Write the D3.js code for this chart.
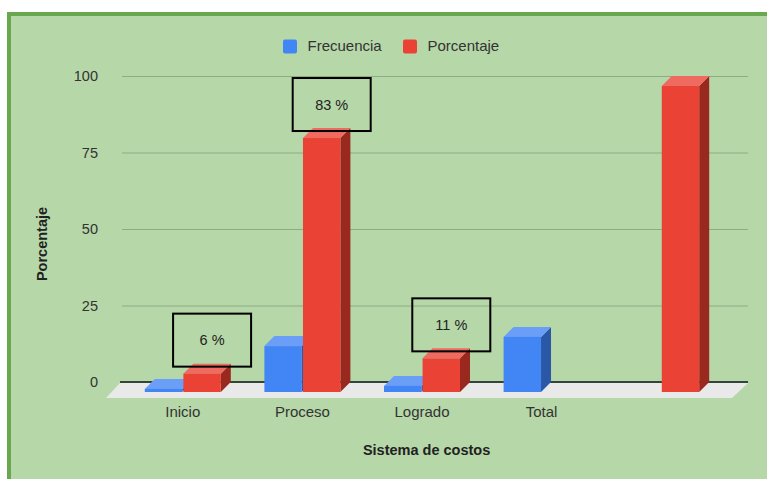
<!DOCTYPE html>
<html>
<head>
<meta charset="utf-8">
<script src="https://cdn.jsdelivr.net/npm/d3@7"></script>
<style>
  html, body { margin: 0; padding: 0; background: #ffffff; }
  svg { display: block; }
  text { font-family: "Liberation Sans", Arial, sans-serif; }
</style>
</head>
<body>
<svg id="chart" width="767" height="479"></svg>
<script>
// ---- data ----
const categories = ["Inicio", "Proceso", "Logrado", "Total", ""];
const seriesNames = ["Frecuencia", "Porcentaje"];
const frecuencia = [1, 15, 2, 18, null];
const porcentaje = [6, 83, 11, null, 100];
const annotated = [true, true, true, false, false];
const yTicks = [0, 25, 50, 75, 100];
const xTitle = "Sistema de costos";
const yTitle = "Porcentaje";

// ---- styles ----
const colors = {
  Frecuencia: { front: "#4285f4", top: "#6a9ef7", side: "#2b58a6" },
  Porcentaje: { front: "#ea4335", top: "#ef6b5f", side: "#99281f" }
};
const depth = 10;

const svg = d3.select("#chart");

// frame
svg.append("rect").attr("x", 9).attr("y", 14).attr("width", 800).attr("height", 500)
  .attr("fill", "#b6d7a8").attr("stroke", "#6aa84f").attr("stroke-width", 4);

// scales
const y = d3.scaleLinear().domain([0, 100]).range([382, 76]);
const x = d3.scaleBand().domain(categories).range([123, 721]);
const x1 = d3.scaleBand().domain(seriesNames).range([-38, 38]).paddingInner(0.03);

// gridlines + tick labels
const yAxis = d3.axisLeft(y).tickValues(yTicks).tickSize(-626).tickPadding(24);
const gAxis = svg.append("g").attr("transform", "translate(122,0)").call(yAxis);
gAxis.select(".domain").remove();
gAxis.selectAll(".tick line").attr("stroke", "#8fab84").attr("stroke-width", 1)
  .filter(d => d === 0).attr("stroke", "none");
gAxis.selectAll(".tick text").attr("font-size", 14.5).attr("fill", "#333")
  .attr("font-family", "'Liberation Sans', Arial, sans-serif");

// floor
const y0 = y(0);
svg.append("path")
  .attr("d", `M120,${y0 + 1} L748,${y0 + 1} L732,${y0 + 16} L106,${y0 + 16} Z`)
  .attr("fill", "#e9e9e9");
// baseline
svg.append("line").attr("x1", 120).attr("x2", 748).attr("y1", y0).attr("y2", y0)
  .attr("stroke", "#35443a").attr("stroke-width", 2);

// bars
const seriesData = { Frecuencia: frecuencia, Porcentaje: porcentaje };
const barsG = svg.append("g");
categories.forEach((c, i) => {
  seriesNames.forEach(s => {
    const v = seriesData[s][i];
    if (v == null) return;
    const xf = x(c) + x.bandwidth() / 2 + x1(s);
    const w = x1.bandwidth();
    const yt = y(v) + depth;
    const yb = y0 + depth;
    const col = colors[s];
    const g = barsG.append("g");
    g.append("path")
      .attr("d", `M${xf + w},${yt} L${xf + w + depth},${yt - depth} L${xf + w + depth},${yb - depth} L${xf + w},${yb} Z`)
      .attr("fill", col.side);
    g.append("path")
      .attr("d", `M${xf},${yt} L${xf + depth},${yt - depth} L${xf + w + depth},${yt - depth} L${xf + w},${yt} Z`)
      .attr("fill", col.top);
    g.append("rect").attr("x", xf).attr("y", yt).attr("width", w).attr("height", yb - yt)
      .attr("fill", col.front);
  });
});

// annotation boxes
categories.forEach((c, i) => {
  if (!annotated[i]) return;
  const v = porcentaje[i];
  const cx = x(c) + x.bandwidth() / 2 + x1("Porcentaje") + x1.bandwidth() / 2 + depth;
  const bw = 78, bh = 53;
  const bottom = y(v) + 3;
  svg.append("rect").attr("x", cx - bw / 2).attr("y", bottom - bh).attr("width", bw).attr("height", bh)
    .attr("fill", "none").attr("stroke", "#000").attr("stroke-width", 2);
  svg.append("text").attr("x", cx).attr("y", bottom - bh / 2 + 5).attr("text-anchor", "middle")
    .attr("font-size", 14.5).attr("fill", "#222").text(Math.round(v) + " %");
});

// category labels
categories.forEach(c => {
  if (!c) return;
  svg.append("text").attr("x", x(c) + x.bandwidth() / 2).attr("y", 417)
    .attr("text-anchor", "middle").attr("font-size", 15).attr("fill", "#333").text(c);
});

// axis titles
svg.append("text").attr("x", 426.6).attr("y", 455).attr("text-anchor", "middle")
  .attr("font-size", 14.5).attr("font-weight", "bold").attr("fill", "#222").text(xTitle);
svg.append("text").attr("transform", "translate(46.5,244) rotate(-90)").attr("text-anchor", "middle")
  .attr("font-size", 14.5).attr("font-weight", "bold").attr("fill", "#222").text(yTitle);

// legend
const legendX = [283, 403];
seriesNames.forEach((s, i) => {
  svg.append("rect").attr("x", legendX[i]).attr("y", 39.5).attr("width", 14).attr("height", 14)
    .attr("rx", 2).attr("fill", colors[s].front);
  svg.append("text").attr("x", legendX[i] + 24.5).attr("y", 51).attr("font-size", 15)
    .attr("fill", "#333").text(s);
});
</script>
</body>
</html>
